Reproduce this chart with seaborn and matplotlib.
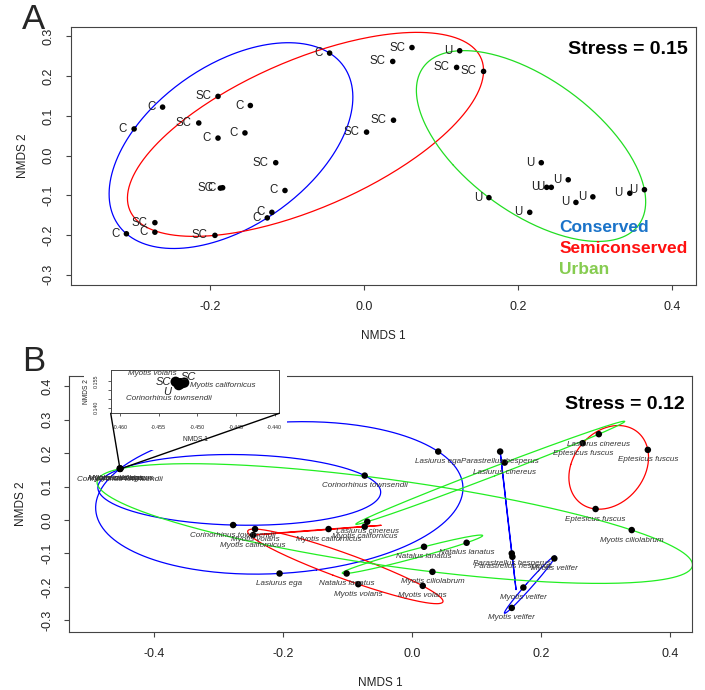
import numpy as np
import matplotlib
matplotlib.use("Agg")
import matplotlib.pyplot as plt
import seaborn as sns
from matplotlib.patches import ConnectionPatch, Rectangle

# ---------------- panel A : sites ----------------
a_habitat = ["C"] * 12 + ["SC"] * 12 + ["U"] * 11
a_nmds1 = [-0.045, -0.262, -0.299, -0.148, -0.190, -0.155, -0.184, -0.103, -0.120, -0.126, -0.272, -0.309,
           -0.190, -0.215, -0.115, -0.187, 0.003, 0.037, 0.062, 0.038, 0.120, 0.155, -0.272, -0.194,
           0.124, 0.230, 0.265, 0.237, 0.243, 0.162, 0.215, 0.275, 0.297, 0.345, 0.364]
a_nmds2 = [0.258, 0.122, 0.067, 0.126, 0.044, 0.057, -0.081, -0.088, -0.143, -0.157, -0.193, -0.197,
           0.149, 0.082, -0.018, -0.082, 0.059, 0.237, 0.272, 0.089, 0.222, 0.212, -0.169, -0.201,
           0.264, -0.018, -0.061, -0.080, -0.080, -0.106, -0.143, -0.118, -0.104, -0.095, -0.086]
a_colors = {"C": "blue", "SC": "red", "U": "#22dd22"}
legend_names = ["Conserved", "Semiconserved", "Urban"]
legend_colors = ["#1a73c9", "#ff1010", "#86cc50"]
stress_a = 0.15

# ---------------- panel B : species ----------------
b_species = ["Myotis volans", "Myotis californicus", "Corinorhinus townsendii", "Lasiurus ega", "Myotis ciliolabrum",
             "Lasiurus ega", "Lasiurus ega",
             "Corinorhinus townsendii", "Corinorhinus townsendii",
             "Parastrellus hesperus", "Parastrellus hesperus", "Parastrellus hesperus",
             "Myotis velifer", "Myotis velifer", "Myotis velifer",
             "Eptesicus fuscus", "Eptesicus fuscus", "Eptesicus fuscus",
             "Myotis californicus", "Myotis californicus", "Myotis californicus",
             "Myotis volans", "Myotis volans", "Myotis volans",
             "Lasiurus cinereus", "Lasiurus cinereus", "Lasiurus cinereus",
             "Natalus lanatus", "Natalus lanatus", "Natalus lanatus",
             "Myotis ciliolabrum", "Myotis ciliolabrum"]
b_nmds1 = [-0.4528, -0.4517, -0.4524, -0.4522, -0.4521,
           0.041, -0.205,
           -0.073, -0.277,
           0.137, 0.155, 0.156,
           0.221, 0.173, 0.155,
           0.265, 0.366, 0.285,
           -0.246, -0.129, -0.073,
           -0.243, -0.083, 0.017,
           -0.069, 0.144, 0.290,
           -0.101, 0.019, 0.085,
           0.032, 0.341]
b_nmds2 = [0.1546, 0.1541, 0.1527, 0.1538, 0.1535,
           0.205, -0.160,
           0.133, -0.015,
           0.205, -0.100, -0.110,
           -0.115, -0.202, -0.263,
           0.230, 0.210, 0.033,
           -0.045, -0.027, -0.020,
           -0.027, -0.192, -0.197,
           -0.005, 0.172, 0.257,
           -0.160, -0.080, -0.068,
           -0.155, -0.030]
# ellipse membership ("" = not in any hull)
b_group = ["", ""] + b_species[2:]
group_colors = {"Lasiurus ega": "blue", "Corinorhinus townsendii": "blue", "Parastrellus hesperus": "blue",
                "Myotis velifer": "blue", "Eptesicus fuscus": "red", "Myotis californicus": "red",
                "Myotis volans": "red", "Lasiurus cinereus": "#22ee22", "Natalus lanatus": "#22ee22",
                "Myotis ciliolabrum": "#22ee22"}
inset_habitat = ["SC", "SC", "U"]
stress_b = 0.12


def ehull(x, y, n=300):
    # minimum volume enclosing ellipse (Khachiyan), like vegan's ordiellipse(kind="ehull")
    P = np.column_stack([x, y])
    k = len(P)
    Q = np.vstack([P.T, np.ones(k)])
    u = np.full(k, 1.0 / k)
    for _ in range(20000):
        X = Q @ np.diag(u) @ Q.T
        M = np.sum(Q * np.linalg.solve(X, Q), axis=0)
        j = np.argmax(M)
        step = (M[j] - 3) / (3 * (M[j] - 1))
        if step < 1e-10:
            break
        u = (1 - step) * u
        u[j] += step
    c = P.T @ u
    S = (P.T * u) @ P - np.outer(c, c)
    w, V = np.linalg.eigh(S)
    t = np.linspace(0, 2 * np.pi, n)
    circ = np.vstack([np.cos(t), np.sin(t)])
    pts = c[:, None] + V @ (np.sqrt(2 * np.clip(w, 0, None))[:, None] * circ)
    return pts[0], pts[1]


sns.set_theme(style="ticks")
plt.rcParams["font.family"] = ["Liberation Sans", "DejaVu Sans"]
plt.rcParams["axes.unicode_minus"] = False

W, H = 705, 690
fig = plt.figure(figsize=(W / 100, H / 100), dpi=100)


def px_axes(l, t, r, b):
    return fig.add_axes([l / W, 1 - b / H, (r - l) / W, (b - t) / H])


def style_axes(ax, fs):
    for s in ax.spines.values():
        s.set_color("#444444")
        s.set_linewidth(0.8)
    ax.tick_params(direction="out", length=3.6, width=0.8, color="#444444",
                   labelsize=fs, labelcolor="#222222", pad=8)
    ax.set_facecolor("white")


# ---------------- A ----------------
axA = px_axes(71, 27.3, 696, 285)
dfA = {"x": np.array(a_nmds1), "y": np.array(a_nmds2), "h": np.array(a_habitat)}
for h in ["C", "SC", "U"]:
    m = dfA["h"] == h
    ex, ey = ehull(dfA["x"][m], dfA["y"][m])
    axA.plot(ex, ey, color=a_colors[h], lw=0.9, zorder=2)
sns.scatterplot(x=a_nmds1, y=a_nmds2, color="black", s=16, edgecolor="none", legend=False, ax=axA, zorder=3)
for x, y, h in zip(a_nmds1, a_nmds2, a_habitat):
    axA.annotate(h, (x, y), xytext=(-5, 0), textcoords="offset points", ha="right", va="center",
                 fontsize=8.3, color="#222222")
axA.set_xlim(-0.381, 0.431)
axA.set_ylim(-0.326, 0.323)
axA.set_xticks([-0.2, 0.0, 0.2, 0.4])
axA.set_xticklabels(["-0.2", "0.0", "0.2", "0.4"])
axA.set_yticks(np.round(np.arange(-0.3, 0.31, 0.1), 1))
axA.set_yticklabels(["-0.3", "-0.2", "-0.1", "0.0", "0.1", "0.2", "0.3"], rotation=90, va="center")
style_axes(axA, 9)
axA.set_xlabel("NMDS 1", fontsize=8.5, labelpad=12, color="#222222")
axA.set_ylabel("NMDS 2", fontsize=8.5, labelpad=10, color="#222222")
axA.text(0.986, 0.912, "Stress = %.2f" % stress_a, transform=axA.transAxes, ha="right", va="center",
         fontsize=14, fontweight="bold", color="black")
for i, (name, col) in enumerate(zip(legend_names, legend_colors)):
    axA.text(0.781, 0.225 - i * 0.083, name, transform=axA.transAxes, ha="left", va="center",
             fontsize=12.5, fontweight="bold", color=col)
fig.text(33 / W, 1 - 29 / H, "A", fontsize=25, ha="center", va="baseline")

# ---------------- B ----------------
axB = px_axes(69.3, 375.7, 691.7, 632.3)
bx = np.array(b_nmds1)
by = np.array(b_nmds2)
bg = np.array(b_group)
for g, col in group_colors.items():
    m = bg == g
    ex, ey = ehull(bx[m], by[m])
    axB.plot(ex, ey, color=col, lw=0.9, zorder=2)
sns.scatterplot(x=b_nmds1, y=b_nmds2, color="black", s=22, edgecolor="none", legend=False, ax=axB, zorder=3)
for x, y, sp in zip(b_nmds1, b_nmds2, b_species):
    axB.annotate(sp, (x, y), xytext=(0, -7.2), textcoords="offset points", ha="center", va="center",
                 fontsize=5.8, style="italic", color="#333333", zorder=4)
axB.set_xlim(-0.531, 0.434)
axB.set_ylim(-0.336, 0.432)
axB.set_xticks([-0.4, -0.2, 0.0, 0.2, 0.4])
axB.set_xticklabels(["-0.4", "-0.2", "0.0", "0.2", "0.4"])
axB.set_yticks(np.round(np.arange(-0.3, 0.41, 0.1), 1))
axB.set_yticklabels(["-0.3", "-0.2", "-0.1", "0.0", "0.1", "0.2", "0.3", "0.4"], rotation=90, va="center")
style_axes(axB, 9)
axB.set_xlabel("NMDS 1", fontsize=8.5, labelpad=12, color="#222222")
axB.set_ylabel("NMDS 2", fontsize=8.5, labelpad=10, color="#222222")
axB.text(0.989, 0.886, "Stress = %.2f" % stress_b, transform=axB.transAxes, ha="right", va="center",
         fontsize=14, fontweight="bold", color="black", zorder=6)
fig.text(34 / W, 1 - 371 / H, "B", fontsize=25, ha="center", va="baseline")

# white area behind the zoom inset
axB.add_patch(Rectangle((84 / W, 1 - 450 / H), (287 - 84) / W, (450 - 362) / H, transform=fig.transFigure,
                        facecolor="white", edgecolor="none", zorder=5, clip_on=False))

# ---------------- inset ----------------
axI = px_axes(110.7, 370, 279.3, 413.3)
sns.scatterplot(x=b_nmds1, y=b_nmds2, color="black", s=55, edgecolor="none", legend=False, ax=axI, zorder=3)
axI.set_xlim(-0.4612, -0.4394)
axI.set_ylim(0.1369, 0.1612)
axI.set_xticks([-0.460, -0.455, -0.450, -0.445, -0.440])
axI.set_xticklabels(["-0.460", "-0.455", "-0.450", "-0.445", "-0.440"])
axI.set_yticks([0.140, 0.145, 0.150, 0.155])
axI.set_yticklabels(["0.140", "", "", "0.155"], rotation=90, va="center")
for s in axI.spines.values():
    s.set_color("#444444")
    s.set_linewidth(0.7)
axI.tick_params(direction="out", length=2.5, width=0.6, color="#444444", labelsize=3.8, pad=6)
axI.set_xlabel("NMDS 1", fontsize=4.8, labelpad=4,
               bbox=dict(facecolor="white", edgecolor="none", pad=0.5))
axI.set_ylabel("NMDS 2", fontsize=4.8, labelpad=3)
ins_off = {"Myotis volans": [((0.7, 5.8), "right"), ((-3.6, 0.0), "right")],
           "Myotis californicus": [((4.2, -1.7), "left"), ((2.7, 4.1), "center")],
           "Corinorhinus townsendii": [((-7.4, -9.3), "center"), ((-8.7, -4.8), "center")]}
for i, hab in enumerate(inset_habitat):
    sp = b_species[i]
    (o1, ha1), (o2, ha2) = ins_off[sp]
    axI.annotate(sp, (b_nmds1[i], b_nmds2[i]), xytext=o1, textcoords="offset points", ha=ha1, va="center",
                 fontsize=5.8, style="italic", color="#333333")
    axI.annotate(hab, (b_nmds1[i], b_nmds2[i]), xytext=o2, textcoords="offset points", ha=ha2, va="center",
                 fontsize=8, style="italic", color="#222222")

# lines from inset to the cluster
for corner in [(0, 0), (1, 0)]:
    con = ConnectionPatch(xyA=corner, coordsA=axI.transAxes, xyB=(b_nmds1[2], b_nmds2[2]), coordsB=axB.transData,
                          color="black", lw=1.0, zorder=7)
    fig.add_artist(con)
axI.xaxis.label.set_zorder(10)

fig.savefig("out.png", dpi=100, facecolor="white")
